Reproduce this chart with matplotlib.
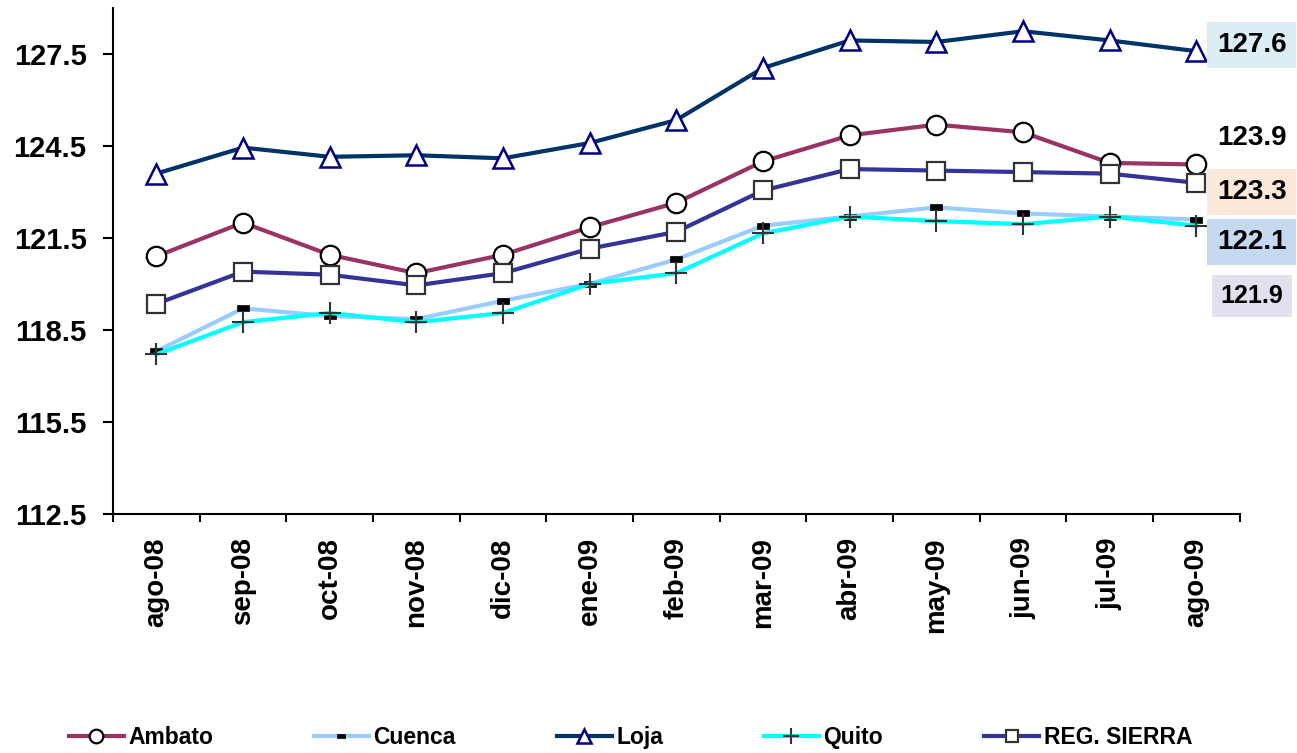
import numpy as np
import matplotlib
matplotlib.use("Agg")
import matplotlib.pyplot as plt
from matplotlib.path import Path

plt.rcParams['font.family'] = ['Liberation Sans', 'DejaVu Sans']
plt.rcParams['font.weight'] = 'bold'

# datos
meses = ['ago-08', 'sep-08', 'oct-08', 'nov-08', 'dic-08', 'ene-09', 'feb-09',
         'mar-09', 'abr-09', 'may-09', 'jun-09', 'jul-09', 'ago-09']

ambato = [120.9, 122.0, 120.95, 120.35, 120.95, 121.85, 122.65, 124.0, 124.85, 125.2, 124.95, 123.95, 123.9]
cuenca = [117.8, 119.2, 118.95, 118.85, 119.45, 120.0, 120.8, 121.9, 122.2, 122.5, 122.3, 122.2, 122.1]
loja   = [123.6, 124.45, 124.15, 124.2, 124.1, 124.6, 125.35, 127.05, 127.95, 127.9, 128.25, 127.95, 127.6]
quito  = [117.7, 118.75, 119.05, 118.75, 119.05, 120.0, 120.35, 121.65, 122.2, 122.05, 121.95, 122.2, 121.9]
sierra = [119.35, 120.4, 120.3, 119.95, 120.35, 121.15, 121.7, 123.05, 123.75, 123.7, 123.65, 123.6, 123.3]

yticks = [112.5, 115.5, 118.5, 121.5, 124.5, 127.5]

x = np.arange(len(meses))

fig = plt.figure(figsize=(12.97, 7.53), dpi=100)
ax = fig.add_axes([0.0871, 0.318, 0.8687, 0.671])

rect = Path([(-1, -0.55), (1, -0.55), (1, 0.55), (-1, 0.55), (-1, -0.55)],
            [Path.MOVETO, Path.LINETO, Path.LINETO, Path.LINETO, Path.CLOSEPOLY])

ax.plot(x, ambato, color='#993366', lw=3, marker='o', ms=14, mfc='white',
        mec='black', mew=1.6, label='Ambato')
ax.plot(x, cuenca, color='#99CCFF', lw=3, marker=rect, ms=8, mfc='black',
        mec='black', mew=0.5, label='Cuenca')
ax.plot(x, loja, color='#003366', lw=3, marker='^', ms=15, mfc='white',
        mec='#000080', mew=1.8, label='Loja')
ax.plot(x, quito, color='#00FFFF', lw=3, marker='+', ms=16, mec='#333333',
        mew=1.5, label='Quito')
ax.plot(x, sierra, color='#333399', lw=3, marker='s', ms=13, mfc='white',
        mec='#333333', mew=1.6, label='REG. SIERRA')

ax.set_xlim(-0.5, 12.5)
ax.set_ylim(112.5, 129.0)
ax.set_yticks(yticks)
ax.set_yticklabels(['%.1f' % v for v in yticks], fontsize=21, fontweight='bold')
ax.set_xticks(x)
ax.set_xticklabels(meses, rotation=90, fontsize=20, fontweight='bold')
ax.set_xticks(np.arange(-0.5, 13, 1), minor=True)
ax.tick_params(axis='x', which='major', length=0, pad=17)
ax.tick_params(axis='x', which='minor', length=6, width=1.5, direction='out')
ax.tick_params(axis='y', length=7, width=1.5, direction='out', pad=12)

for s in ['top', 'right']:
    ax.spines[s].set_visible(False)
for s in ['left', 'bottom']:
    ax.spines[s].set_linewidth(1.5)

# etiquetas finales
etiquetas = [(loja[-1], 127.8, '#DAEEF3', 20),
             (ambato[-1], 124.75, None, 20),
             (sierra[-1], 123.0, '#FDE9D9', 20),
             (cuenca[-1], 121.37, '#C5D9F1', 20),
             (quito[-1], 119.6, '#E4DFEC', 18)]
for val, ypos, col, fs in etiquetas:
    bb = None
    if col:
        bb = dict(boxstyle='square,pad=0.35', fc=col, ec='none')
    ax.text(12.64, ypos, '%.1f' % val, ha='center', va='center', fontsize=fs,
            fontweight='bold', bbox=bb, clip_on=False)

leg = fig.legend(loc='lower center', bbox_to_anchor=(0.486, -0.022), ncol=5,
                 frameon=False, fontsize=16.5, markerscale=0.7, handlelength=2.4,
                 columnspacing=4.4, handletextpad=0.2)

fig.savefig('out.png', dpi=100)
